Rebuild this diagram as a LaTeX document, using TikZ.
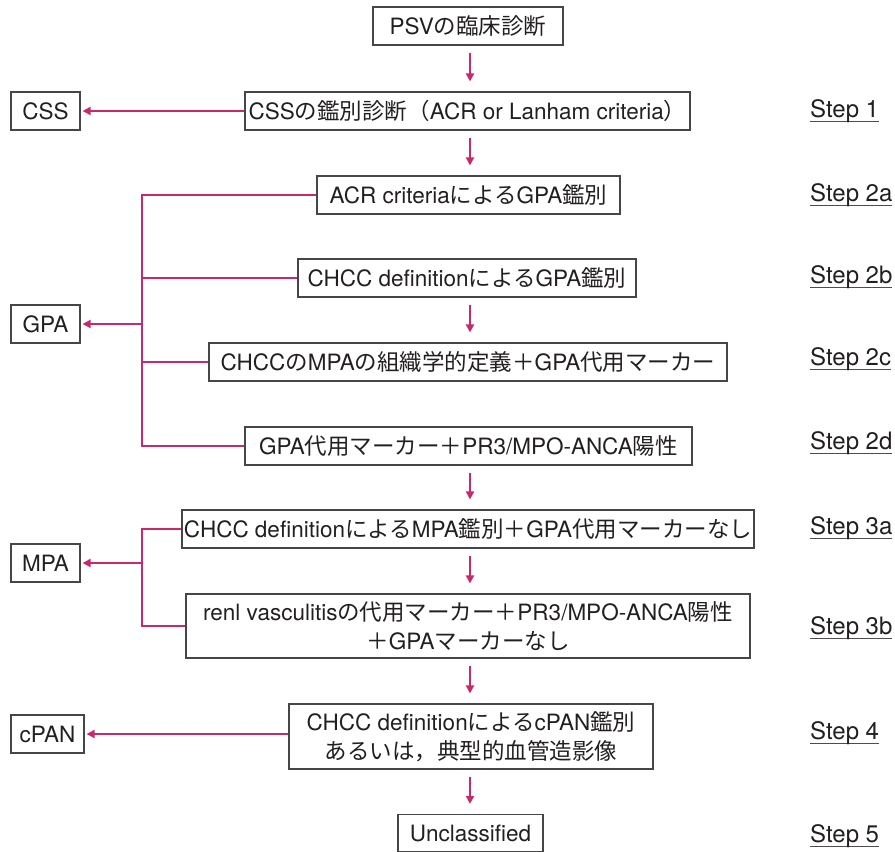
\documentclass[tikz,border=0pt]{standalone}
\usepackage{fontspec}
\setmainfont{TeX Gyre Heros}
\newfontfamily\jp{Noto Sans CJK JP}
\usetikzlibrary{arrows.meta}
\definecolor{mag}{RGB}{200,40,110}
\definecolor{ink}{RGB}{35,31,32}
\definecolor{boxc}{RGB}{70,70,70}
\newcommand\J[1]{{\jp #1}}
\newcommand\ul[1]{\setbox0\hbox{#1}\leavevmode\rlap{\color{ink!80}\rule[-5pt]{\wd0}{1.1pt}}\box0}
\begin{document}
\begin{tikzpicture}[x=1pt,y=-1pt,
  every node/.style={text=ink,font=\fontsize{22.5}{29}\selectfont},
  box/.style={draw=boxc,line width=1.2pt,inner sep=0pt,minimum height=38pt,align=center},
  mline/.style={draw=mag,line width=2pt,line join=miter},
  arr/.style={mline,-{Triangle[length=8pt,width=8pt]}},
  darr/.style={arr,shorten <=7pt,shorten >=10pt},
  steplbl/.style={anchor=west,inner sep=0pt,font=\fontsize{24}{28}\selectfont}]
\useasboundingbox (0,0) rectangle (895,852);
% main column
\node[box,minimum width=190pt] (psv) at (468,26) {PSV\J{の臨床診断}};
\node[box,minimum width=445pt] (cssd) at (467.5,111) {CSS\J{の鑑別診断（}ACR or Lanham criteria\J{）}};
\node[box,minimum width=303pt] (acr) at (468.5,195) {ACR criteria\J{による}GPA\J{鑑別}};
\node[box,minimum width=338pt] (chccg) at (467,278) {CHCC definition\J{による}GPA\J{鑑別}};
\node[box,minimum width=518pt] (mpadef) at (468,362) {CHCC\J{の}MPA\J{の組織学的定義＋}GPA\J{代用マーカー}};
\node[box,minimum width=447pt] (gpamk) at (468.5,446) {GPA\J{代用マーカー＋}PR3/MPO-ANCA\J{陽性}};
\node[box,minimum width=572pt] (chccm) at (468,529) {CHCC definition\J{による}MPA\J{鑑別＋}GPA\J{代用マーカーなし}};
\node[box,minimum width=564pt,minimum height=64pt] (renl) at (468,626) {renl vasculitis\J{の代用マーカー＋}PR3/MPO-ANCA\J{陽性}\\\J{＋}GPA\J{マーカーなし}};
\node[box,minimum width=364pt,minimum height=65pt] (cpand) at (471,736.5) {CHCC definition\J{による}cPAN\J{鑑別}\\\J{あるいは，典型的血管造影像}};
\node[box,minimum width=145pt,minimum height=37pt] (uncl) at (470.5,833) {Unclassified};
% outcomes
\node[box,minimum width=69pt] (css) at (45.5,111) {CSS};
\node[box,minimum width=69pt] (gpa) at (45.5,324) {GPA};
\node[box,minimum width=69pt] (mpa) at (45.5,563) {MPA};
\node[box,minimum width=73pt] (cpan) at (47.5,734) {cPAN};
% steps
\node[steplbl] (s1) at (810,111) {\ul{Step 1}};
\node[steplbl] (s2a) at (810,195) {\ul{Step 2a}};
\node[steplbl] (s2b) at (810,277) {\ul{Step 2b}};
\node[steplbl] (s2c) at (810,359) {\ul{Step 2c}};
\node[steplbl] (s2d) at (810,443) {\ul{Step 2d}};
\node[steplbl] (s3a) at (810,528) {\ul{Step 3a}};
\node[steplbl] (s3b) at (810,628) {\ul{Step 3b}};
\node[steplbl] (s4) at (810,733) {\ul{Step 4}};
\node[steplbl] (s5) at (810,836) {\ul{Step 5}};
% vertical arrows
\coordinate (ax) at (470,0);
\draw[darr] (psv.south -| ax) -- (cssd.north -| ax);
\draw[darr] (cssd.south -| ax) -- (acr.north -| ax);
\draw[darr] (chccg.south -| ax) -- (mpadef.north -| ax);
\draw[darr] (gpamk.south -| ax) -- (chccm.north -| ax);
\draw[darr] (chccm.south -| ax) -- (renl.north -| ax);
\draw[darr] (renl.south -| ax) -- (cpand.north -| ax);
\draw[darr] (cpand.south -| ax) -- (uncl.north -| ax);
% horizontal arrows
\draw[arr,shorten >=2pt] (cssd.west) -- (css.east);
\draw[arr,shorten >=2pt] (cpand.west |- cpan.east) -- (cpan.east);
% GPA bracket
\coordinate (gx) at (142,0);
\draw[mline] (acr.west) -- (acr.west -| gx) -- (gpamk.west -| gx) -- (gpamk.west);
\draw[mline] (chccg.west) -- (chccg.west -| gx);
\draw[mline] (mpadef.west) -- (mpadef.west -| gx);
\draw[arr,shorten >=2pt] (gpa.east -| gx) -- (gpa.east);
% MPA bracket
\draw[mline] (chccm.west) -- (chccm.west -| gx) -- (renl.west -| gx) -- (renl.west);
\draw[arr,shorten >=2pt] (mpa.east -| gx) -- (mpa.east);
\end{tikzpicture}
\end{document}
